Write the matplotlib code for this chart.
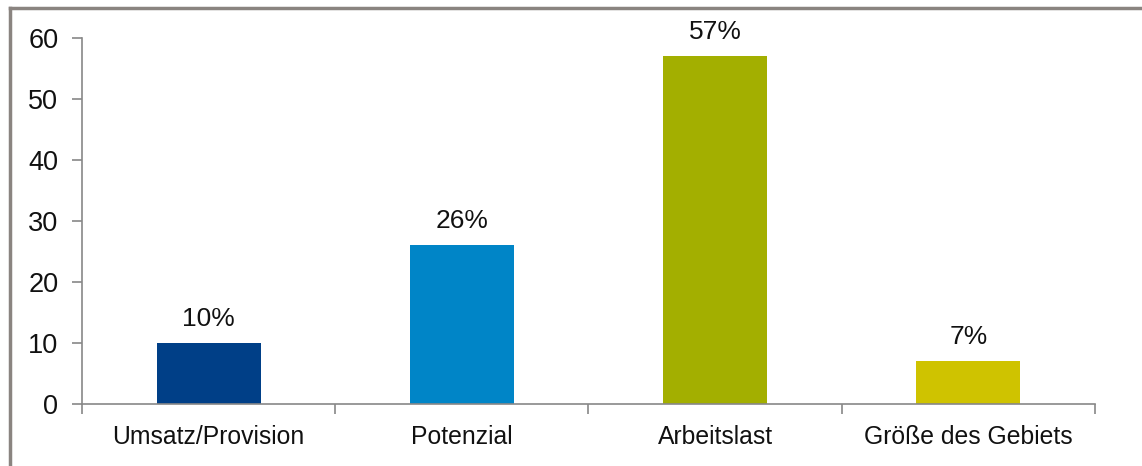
import matplotlib
matplotlib.use("Agg")
import matplotlib.pyplot as plt
from matplotlib.lines import Line2D
from matplotlib.ticker import FixedLocator

# Data
categories = ["Umsatz/Provision", "Potenzial", "Arbeitslast", "Größe des Gebiets"]
values = [10, 26, 57, 7]
value_labels = ["10%", "26%", "57%", "7%"]
bar_colors = ["#003F87", "#0085C7", "#A3AF00", "#CFC300"]
y_ticks = [0, 10, 20, 30, 40, 50, 60]

plt.rcParams["font.family"] = ["Liberation Sans", "DejaVu Sans"]

fig = plt.figure(figsize=(11.42, 4.66), dpi=100)
ax = fig.add_axes([0.0718, 0.133, 0.887, 0.7855])

x = list(range(len(categories)))
bars = ax.bar(x, values, width=0.41, color=bar_colors, zorder=2)

for b, lab in zip(bars, value_labels):
    ax.annotate(lab, (b.get_x() + b.get_width() / 2, b.get_height()),
                xytext=(0, 9), textcoords="offset points",
                ha="center", va="bottom", fontsize=19, color="#111111")

ax.set_xlim(-0.5, len(categories) - 0.5)
ax.set_ylim(0, 60)
ax.set_yticks(y_ticks)

# category labels in the middle, tick marks at the boundaries
ax.set_xticks(x)
ax.set_xticklabels(categories, fontsize=17.8, color="#111111")
ax.xaxis.set_minor_locator(FixedLocator([i - 0.5 for i in range(len(categories) + 1)]))
ax.tick_params(axis="x", which="major", length=0, pad=15)
ax.tick_params(axis="x", which="minor", length=7, width=1.2, color="#888888", direction="out")
ax.tick_params(axis="y", length=7, width=1.2, color="#888888", labelsize=19.5,
               labelcolor="#111111", pad=10, direction="out")

for side in ["top", "right"]:
    ax.spines[side].set_visible(False)
for side in ["left", "bottom"]:
    ax.spines[side].set_color("#888888")
    ax.spines[side].set_linewidth(1.2)

# grey frame at top and left of the picture
fig.add_artist(Line2D([0.0085, 1.0], [0.983, 0.983], transform=fig.transFigure,
                      color="#8A8480", linewidth=2.5))
fig.add_artist(Line2D([0.0085, 0.0085], [0.0, 0.983], transform=fig.transFigure,
                      color="#8A8480", linewidth=2.5))

fig.savefig("out.png", dpi=100)
